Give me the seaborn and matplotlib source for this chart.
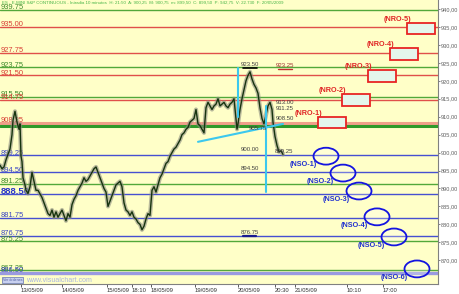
import matplotlib
matplotlib.use("Agg")
import matplotlib.pyplot as plt
import seaborn as sns
import pandas as pd
from matplotlib.patches import Rectangle, Ellipse

# ---------------- data ----------------
bar_pos = [0, 2, 4, 6, 8, 10, 12, 13, 15, 16, 17, 19, 20, 21, 22, 23, 25, 26, 28, 30,
           32, 34, 36, 38, 40, 42, 44, 46, 48, 50, 52, 54, 56, 58, 60, 62, 64, 66, 68, 70,
           72, 74, 76, 78, 80, 82, 84, 86, 88, 90, 92, 94, 96, 98, 100, 102, 104, 106, 108, 110,
           112, 114, 116, 118, 120, 122, 124, 126, 128, 130, 132, 134, 136, 138, 140, 142, 144, 146, 148, 150,
           152, 154, 156, 158, 160, 162, 164, 166, 168, 170, 172, 174, 176, 178, 180, 182, 184, 186, 188, 190,
           192, 194, 196, 198, 200, 202, 204, 206, 208, 210, 212, 214, 216, 218, 220, 222, 224, 226, 228, 230,
           232, 234, 236, 237, 238, 240, 242, 244, 246, 248, 250, 252, 254, 256, 258, 260, 262, 264, 266, 268,
           270, 272, 273, 275, 277, 279, 281, 283]
close = [896.5, 895.5, 896.0, 898.0, 899.5, 901.0, 905.0, 909.0, 911.5, 910.0, 908.5, 906.5, 908.0, 899.0, 897.5, 893.0, 891.0, 889.5, 888.6, 890.5,
         894.5, 892.0, 889.5, 889.5, 888.5, 887.5, 886.0, 884.5, 883.0, 882.5, 884.0, 882.0, 883.5, 882.0, 883.0, 884.0, 882.5, 881.0, 883.0, 882.0,
         885.5, 887.0, 888.0, 889.5, 890.5, 891.5, 893.0, 892.0, 892.5, 893.5, 894.5, 895.5, 896.0, 894.5, 893.0, 891.5, 890.0, 889.0, 885.0, 886.5,
         888.0, 889.5, 891.0, 891.5, 892.0, 890.5, 886.0, 884.0, 883.5, 882.5, 883.5, 882.0, 881.5, 880.5, 880.0, 878.5, 879.5, 881.5, 883.0, 882.5,
         889.5, 890.5, 889.0, 891.0, 893.0, 894.0, 895.5, 897.0, 897.5, 899.0, 900.0, 901.0, 901.5, 902.5, 903.5, 905.0, 905.5, 906.5, 907.0, 908.5,
         909.0, 909.5, 912.0, 908.0, 907.5, 906.5, 905.5, 912.5, 914.0, 913.0, 912.0, 913.0, 913.5, 915.0, 913.0, 913.5, 914.0, 913.0, 912.5, 913.5,
         914.0, 915.0, 909.5, 906.5, 908.0, 912.0, 915.0, 917.5, 920.0, 921.5, 922.5, 920.5, 919.0, 918.0, 916.5, 912.5, 909.5, 908.0, 910.5, 913.0,
         914.0, 912.0, 908.5, 904.5, 902.0, 900.2, 900.5, 899.5]

level_values = [939.75, 935.00, 927.75, 923.75, 921.50, 915.50, 914.75, 908.25, 907.50,
                899.25, 894.50, 891.25, 888.50, 881.75, 876.75, 875.25, 867.25, 866.50]
level_kind = ["G", "R", "R", "G", "R", "G", "R", "R", "G",
              "B", "B", "G", "B", "B", "B", "G", "G", "B"]
level_labels = ["939.75", "935.00", "927.75", "923.75", "921.50", "915.50", "914.75", "908.25", "",
                "899.25", "894.50", "891.25", "888.50", "881.75", "876.75", "875.25", "867.25", "866.50"]

nro_names = ["(NRO-1)", "(NRO-2)", "(NRO-3)", "(NRO-4)", "(NRO-5)"]
nro_levels = [908.40, 914.65, 921.35, 927.45, 934.55]
nro_time = [332, 356, 382, 404, 421]

nso_names = ["(NSO-1)", "(NSO-2)", "(NSO-3)", "(NSO-4)", "(NSO-5)", "(NSO-6)"]
nso_levels = [899.0, 894.3, 889.3, 882.1, 876.5, 867.6]
nso_time = [326, 343, 359, 377, 394, 417]

notes = ["923.50", "923.25", "913.00", "911.25", "908.50", "905.75", "900.00", "899.25", "894.50", "876.75"]
note_values = [923.50, 923.25, 913.00, 911.25, 908.50, 905.75, 900.00, 899.25, 894.50, 876.75]
note_time = [250, 285, 285, 285, 285, 258, 250, 284, 250, 250]

tick_pos = [21, 62, 107, 132, 151, 195, 238, 275, 295, 347, 383]
tick_labels = ["13/05/09", "14/05/09", "15/05/09", "18:10", "18/05/09", "19/05/09",
               "20/05/09", "20:30", "21/05/09", "10:10", "17:00"]

# ---------------- style ----------------
sns.set_theme(style="white")
plt.rcParams["font.family"] = ["Liberation Sans", "DejaVu Sans"]

col = {"G": "#52a83a", "R": "#e0504a", "B": "#4650d0"}
txtcol = {"G": "#3d8a2a", "R": "#d83c34", "B": "#3a46c4"}

fig = plt.figure(figsize=(4.6, 2.94), dpi=100)
fig.patch.set_facecolor("white")
ax = fig.add_axes([0, 10 / 294, 438 / 460, 284 / 294])
ax.set_facecolor("#ffffc8")
ax.set_xlim(0, 438)
ax.set_ylim(863.4, 942.5)

# horizontal levels
for v, k, lab in zip(level_values, level_kind, level_labels):
    lw = 1.0
    c = col[k]
    if v == 908.25:
        c, lw = "#f0a08a", 2.2
    if v == 907.50:
        c, lw = "#2f9a2a", 2.2
    if v == 866.50:
        c, lw = "#9a9ae0", 2.4
    ax.axhline(v, color=c, lw=lw, zorder=1)
    if lab:
        if lab == "888.50":
            ax.text(1, v + 0.75, lab, color="#2a36c8", fontsize=6.8, fontweight="bold",
                    va="center", ha="left", zorder=2)
        else:
            ax.text(1, v + 0.6, lab, color=txtcol[k], fontsize=5.4, va="center", ha="left", zorder=2)

# price series
df = pd.DataFrame({"t": bar_pos, "price": close})
sns.lineplot(data=df, x="t", y="price", ax=ax, color="#8c8c80", lw=3.0, alpha=0.6, zorder=3)
sns.lineplot(data=df, x="t", y="price", ax=ax, color="#17340f", lw=1.0, zorder=4)

# cyan study lines
cy = "#3cc8ee"
ax.plot([238, 238], [923.5, 910.0], color=cy, lw=1.5, zorder=5)
ax.plot([266, 266], [913.0, 889.0], color=cy, lw=1.5, zorder=5)
ax.plot([198, 283], [903.0, 908.0], color=cy, lw=1.5, zorder=5)

# notes
for t, v, s in zip(note_time, note_values, notes):
    c = "#404040"
    if s == "923.25":
        c = "#a03030"
    ax.text(t, v + 0.3, s, fontsize=4.3, color=c, ha="center", va="bottom", zorder=6)
ax.plot([243, 257], [923.5, 923.5], color="black", lw=1.2, zorder=6)
ax.plot([278, 292], [923.25, 923.25], color="#c03030", lw=1.0, zorder=6)
ax.plot([243, 256], [876.75, 876.75], color="#1a1a90", lw=1.6, zorder=6)

# NRO boxes
for name, lvl, t in zip(nro_names, nro_levels, nro_time):
    ax.add_patch(Rectangle((t - 14, lvl - 1.55), 28, 3.1, facecolor="#e4f6ec",
                           edgecolor="#e82424", lw=1.3, zorder=6))
    ax.text(t - 24, lvl + 2.6, name, color="#e02424", fontsize=5.2, fontweight="bold",
            ha="center", va="center", zorder=7)

# NSO ellipses
for name, lvl, t in zip(nso_names, nso_levels, nso_time):
    ax.add_patch(Ellipse((t, lvl), 25, 4.7, facecolor=(1, 1, 1, 0.25),
                         edgecolor="#1414e0", lw=1.3, zorder=6))
    ax.text(t - 23, lvl - 2.4, name, color="#2030d0", fontsize=5.2, fontweight="bold",
            ha="center", va="center", zorder=7)

# header text
ax.text(2, 942.3, "ES - E-MINI S&P CONTINUOUS - Intradia 10 minutos  H: 21:50  A: 900,25  M: 900,75  m: 899,50  "
        "C: 899,50  P: 942,75  V: 22.730  F: 20/05/2009",
        fontsize=3.2, color="#46b446", va="top", ha="left", zorder=8)

# watermark + button
ax.text(26, 864.5, "www.visualchart.com", fontsize=5, color="#a8b4e4", va="center", ha="left", zorder=8)
ax.text(3, 864.5, "Ver órdenes", fontsize=2.6, color="#5060a0", va="center", ha="left", zorder=8,
        bbox=dict(boxstyle="square,pad=0.25", facecolor="#c8d0f0", edgecolor="#6070b0", lw=0.5))

# axes
ax.yaxis.tick_right()
ax.set_yticks(range(870, 941, 5))
ax.set_yticklabels([f"{v:.2f}".replace(".", ",") for v in range(870, 941, 5)])
ax.tick_params(axis="y", right=True, length=1.5, width=0.6, color="#707070", labelsize=4.1,
               labelcolor="#606060", pad=0.5)
ax.set_xticks(tick_pos)
ax.set_xticklabels(tick_labels)
ax.tick_params(axis="x", bottom=True, length=2, width=0.6, color="#404040", labelsize=4.2,
               labelcolor="#303030", pad=1)
for lab in ax.get_xticklabels():
    lab.set_ha("left")
ax.set_xlabel("")
ax.set_ylabel("")
for s in ["top", "left"]:
    ax.spines[s].set_visible(False)
ax.spines["right"].set_color("#808080")
ax.spines["bottom"].set_color("#808080")
ax.spines["right"].set_linewidth(0.8)
ax.spines["bottom"].set_linewidth(0.8)
if ax.get_legend():
    ax.get_legend().remove()

fig.savefig("out.png", dpi=100, facecolor="white")
